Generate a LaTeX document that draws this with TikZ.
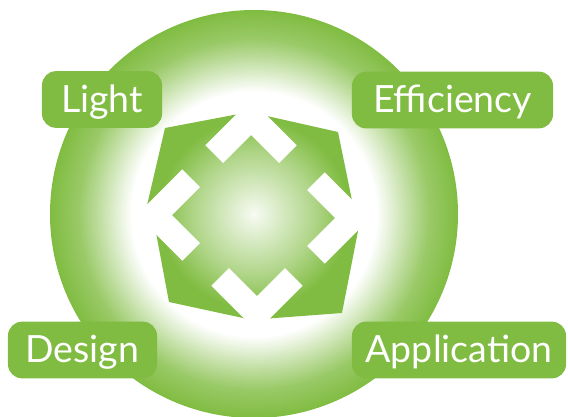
\documentclass[tikz,border=0pt]{standalone}
\usepackage{fontspec}
\newfontfamily\tagfont{Lato}
\definecolor{leaf}{RGB}{128,188,65}
\pgfdeclareradialshading{halo}{\pgfpointorigin}{color(0bp)=(white); color(15bp)=(white); color(19bp)=(leaf!50); color(21.5bp)=(leaf!80); color(25bp)=(leaf); color(50bp)=(leaf)}
\pgfdeclareradialshading{core}{\pgfpointorigin}{color(0bp)=(leaf!6); color(4bp)=(leaf!25); color(12bp)=(leaf!62); color(19bp)=(leaf); color(50bp)=(leaf)}

\begin{document}
\begin{tikzpicture}[x = 0.03cm, y = 0.03cm,
	 tag/.style = {fill = leaf, text = white, rounded corners = 0.42cm, minimum height = 1.7cm, text height = 0.75cm, text depth = 0pt, inner sep = 0pt, font = \tagfont\fontsize{32}{36}\selectfont}]
	 \useasboundingbox (-254, 214) rectangle (314, -202);
	 
	 \shade[shading = halo] (0, 0) circle (204);
	 
	 \begin{scope}
	 \clip (-89, 86) -- (-10, 101) -- (4, 100) -- (84, 82) -- (100, 4) -- (105, -12) -- (88, -99) -- (8, -105) -- (-4, -105.5) -- (-85, -88) -- (-100, -8) -- (-107.6, 6) -- cycle;
	 \shade[shading = core] (-125, -125) rectangle (125, 125);
	 \end{scope}
	 
	 \foreach \a/\dx/\dy in {0/-3/0, -90/2/-4, 180/3/-3, 90/-3/-1}
	 \fill[white, shift = {(\dx, \dy)}, rotate = \a] (0, 79) -- (-28, 51) -- (-45.7, 68.7) -- (0, 114.4) -- (45.7, 68.7) -- (28, 51) -- cycle;
	 
	 \node[tag, minimum width = 3.6cm] (light) at (-152, 114.5) {Light};
	 \node[tag, minimum width = 6.03cm] (efficiency) at (198.5, 114) {Efficiency};
	 \node[tag, minimum width = 4.47cm] (design) at (-171.5, -136) {Design};
	 \node[tag, minimum width = 6.42cm] (application) at (205, -136) {Application};
\end{tikzpicture}
\end{document}
